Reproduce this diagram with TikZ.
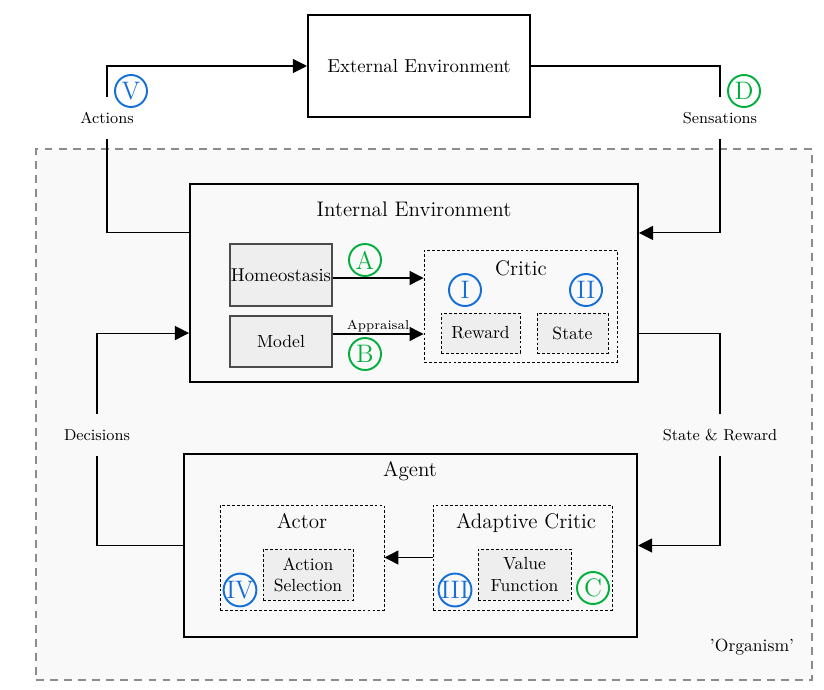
\documentclass[tikz,border=0pt]{standalone}
\usepackage{tikz}
\usetikzlibrary{arrows.meta}
\definecolor{circblue}{RGB}{20,110,215}
\definecolor{circgreen}{RGB}{0,175,60}
\definecolor{orgfill}{RGB}{249,249,249}
\definecolor{orggray}{RGB}{140,140,140}
\definecolor{partfill}{RGB}{238,238,238}

\begin{document}
\begin{tikzpicture}[x=0.02cm,y=-0.02cm,line width=0.6pt,
  bigbox/.style={draw,line width=1.2pt,fill=orgfill},
  subbox/.style={draw,dash pattern=on 1.6pt off 1.2pt,line width=0.5pt},
  solidpart/.style={draw=black!70,line width=0.7pt,fill=partfill,minimum width=2.04cm},
  badge/.style={circle,draw,line width=1.1pt,minimum size=0.64cm,inner sep=0pt,font=\Large},
  flowlabel/.style={font=\small,inner xsep=1pt,inner ysep=8.5pt},
  tri/.style={-{Triangle[length=8pt,width=8pt]}}]

\useasboundingbox (0,0) rectangle (824,689);

\node[draw=orggray,dash pattern=on 4.5pt off 3.5pt,line width=1.2pt,fill=orgfill,
  minimum width=15.52cm,minimum height=10.62cm] (organism) at (424,414.5) {};
\node (orglabel) at (752,647) {'Organism'};

\node[bigbox,fill=white,minimum width=4.44cm,minimum height=2.04cm,font=\fontsize{10.7}{13}\selectfont] (extenv) at (419,66) {External Environment};

\node[bigbox,minimum width=8.96cm,minimum height=3.96cm] (intenv) at (414,283) {};
\node[font=\large] (inttitle) at (414,209) {Internal Environment};
\node[solidpart,minimum height=1.24cm,inner xsep=0pt,font=\fontsize{10.6}{13}\selectfont] (homeo) at (281,275) {Homeostasis};
\node[solidpart,minimum height=1.02cm] (model) at (281,341.5) {Model};
\node[subbox,minimum width=3.86cm,minimum height=2.24cm] (critic) at (520.5,306) {};
\node[font=\large] (critictitle) at (521,268) {Critic};
\node[subbox,fill=partfill,minimum width=1.58cm,minimum height=0.8cm] (reward) at (480.5,333) {Reward};
\node[subbox,fill=partfill,minimum width=1.42cm,minimum height=0.8cm] (state) at (572.5,333) {State};

\node[bigbox,minimum width=9.06cm,minimum height=3.66cm] (agent) at (410.5,545.5) {};
\node[font=\large] (agenttitle) at (410,471) {Agent};
\node[subbox,minimum width=3.28cm,minimum height=2.1cm] (actor) at (302,557.5) {};
\node[font=\large] (actortitle) at (302,521) {Actor};
\node[subbox,fill=partfill,minimum width=1.8cm,minimum height=1.02cm,align=center] (actsel) at (308,574.5) {Action\\Selection};
\node[subbox,minimum width=3.58cm,minimum height=2.1cm] (adcritic) at (522.5,557.5) {};
\node[font=\large] (adcritictitle) at (526,523) {Adaptive Critic};
\node[subbox,fill=partfill,minimum width=1.86cm,minimum height=1.02cm,align=center] (valfun) at (524.5,574.5) {Value\\Function};

\node[flowlabel] (actions) at (107,118) {Actions};
\node[flowlabel] (sensations) at (720,118) {Sensations};
\node[flowlabel] (decisions) at (97,435) {Decisions};
\node[flowlabel] (statereward) at (720,435) {State \& Reward};

\draw[tri] (actions) |- (extenv);
\draw ([yshift=-1cm]intenv.north west) -| (actions);
\draw (extenv) -| (sensations);
\draw[tri] (sensations) |- ([yshift=-1cm]intenv.north east);
\draw ([yshift=1cm]intenv.south east) -| (statereward);
\draw[tri] (statereward) |- (agent);
\draw (agent) -| (decisions);
\draw[tri] (decisions) |- ([yshift=1cm]intenv.south west);

\draw[tri] ([yshift=-0.06cm]homeo.east) -- ([yshift=-0.06cm]homeo.east -| critic.west);
\draw[tri] ([yshift=0.15cm]model.east) -- node[above,font=\fontsize{7.4}{9}\selectfont,inner sep=1pt] (appraisal) {Appraisal}
  ([yshift=0.15cm]model.east -| critic.west);
\draw[tri] (adcritic) -- (actor);

\node[badge,circblue] (badgeV) at (131,91) {V};
\node[badge,circgreen] (badgeD) at (744,91) {D};
\node[badge,circgreen] (badgeA) at (365,260) {A};
\node[badge,circgreen] (badgeB) at (365,354) {B};
\node[badge,circblue] (badgeI) at (465,290) {I};
\node[badge,circblue] (badgeII) at (586,290) {II};
\node[badge,circblue] (badgeIV) at (240,590) {IV};
\node[badge,circblue] (badgeIII) at (455,590) {III};
\node[badge,circgreen] (badgeC) at (593,588) {C};

\end{tikzpicture}
\end{document}
